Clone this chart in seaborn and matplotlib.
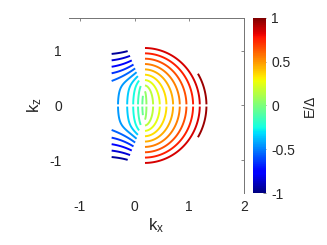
import numpy as np
import matplotlib
matplotlib.use("Agg")
import matplotlib.pyplot as plt
import seaborn as sns

# contour levels of E/Delta and axis ticks
levels = [-0.95, -0.85, -0.75, -0.65, -0.55, -0.45, -0.35, -0.25, -0.15, -0.05,
          0.05, 0.15, 0.25, 0.35, 0.45, 0.55, 0.65, 0.75, 0.85, 0.95]
xticks = [-1, 0, 1, 2]
yticks = [-1, 0, 1]
cbar_ticks = [-1, -0.5, 0, 0.5, 1]
cbar_labels = ["-1", "-0.5", "0", "0.5", "1"]

# parameters of the energy surface
k_center = 0.18                    # kx where the two branches meet
right_offset, right_slope = 0.02, 0.82
arc_h0, arc_growth = 0.24, 0.8     # half height of a right arc = h0 + growth * half width
left_amp, left_width, left_bend = 0.55, 0.42, 0.3
knee_kz, knee_w, knee_slope = 0.42, 0.06, 0.8
left_top = 1.0
gap_scale = 0.3
shell_center, shell_a, shell_b = 0.1, 1.4, 1.1
corner_kx, corner_kz, corner_slope = 1.27, 0.5, 0.8
left_edge = -0.42

sns.set_style("white")
plt.rcParams["font.family"] = ["Liberation Sans", "DejaVu Sans"]
plt.rcParams["axes.unicode_minus"] = False
plt.rcParams["mathtext.default"] = "regular"

kx = np.linspace(-1.2, 2.0, 321)
kz = np.linspace(-1.6, 1.6, 161)
KX, KZ = np.meshgrid(kx, kz)
u = KX - k_center
q = np.abs(KZ)

# right branch: nested half ellipses, solved for the half width r
lo = np.full_like(u, 1e-4)
hi = np.full_like(u, 4.0)
for _ in range(50):
    mid = 0.5 * (lo + hi)
    f = (u / mid) ** 2 + (KZ / (arc_h0 + arc_growth * mid)) ** 2 - 1
    lo = np.where(f > 0, mid, lo)
    hi = np.where(f > 0, hi, mid)
r = 0.5 * (lo + hi)
E_right = right_offset + right_slope * r

# left branch
p = -u
G = left_amp * np.tanh((p + left_bend * q**2) / left_width)
H = knee_slope * knee_w * np.log1p(np.exp((q - knee_kz) / knee_w))
E_left = -(G + H)

E = np.where(u > 0, E_right, E_left)
bad = (np.abs(u) < 0.005) | (np.abs(KZ) < 0.005)
bad |= (u <= 0) & (p < gap_scale * q**1.5)
bad |= (u <= 0) & (q > left_top)
bad |= ((KX - shell_center) / shell_a) ** 2 + (KZ / shell_b) ** 2 > 1
bad |= q > corner_kz + corner_slope * (corner_kx - KX)
bad |= KX < left_edge
E = np.where(bad, np.nan, E)

cmap = matplotlib.colormaps["jet"]
norm = matplotlib.colors.Normalize(vmin=-1, vmax=1)

fig = plt.figure(figsize=(3.27, 2.45), dpi=100)
ax = fig.add_axes([0.211, 0.212, 0.535, 0.715])
ax.contour(KX, KZ, E, levels=levels, cmap=cmap, norm=norm, linewidths=1.4)

ax.set_xlim(-1.2, 2)
ax.set_ylim(-1.6, 1.6)
ax.set_xticks(xticks)
ax.set_yticks(yticks)
ax.tick_params(direction="in", length=2, width=0.6, color="0.45", labelsize=10,
               top=True, right=True, pad=5)
for side in ["left", "bottom"]:
    ax.spines[side].set_visible(False)
for side in ["top", "right"]:
    ax.spines[side].set_color("0.45")
    ax.spines[side].set_linewidth(0.7)
ax.set_xlabel("k$_x$", fontsize=12, labelpad=2)
ax.set_ylabel("k$_z$", fontsize=12, labelpad=4)

cax = fig.add_axes([0.774, 0.212, 0.040, 0.715])
sm = matplotlib.cm.ScalarMappable(norm=norm, cmap=cmap)
cb = fig.colorbar(sm, cax=cax)
cb.outline.set_visible(False)
cb.set_ticks(cbar_ticks)
cb.set_ticklabels(cbar_labels)
cb.ax.tick_params(direction="in", length=2, width=0.6, color="0.45", labelsize=10)
cb.set_label("E/Δ", fontsize=10, labelpad=6)

fig.savefig("out.png", dpi=100)
